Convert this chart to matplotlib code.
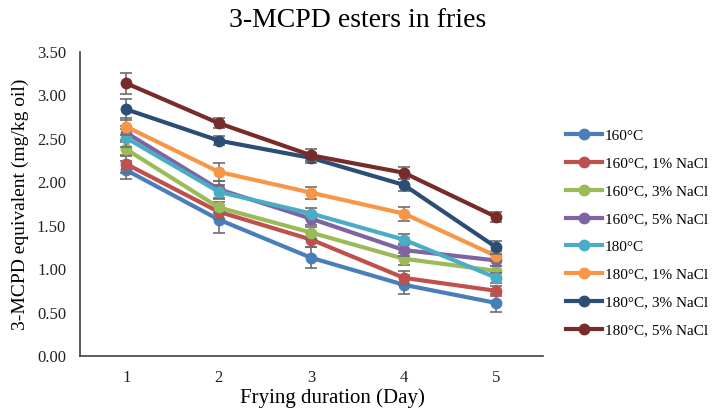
import matplotlib.pyplot as plt

days = [1, 2, 3, 4, 5]

labels = ['160°C', '160°C, 1% NaCl', '160°C, 3% NaCl', '160°C, 5% NaCl',
          '180°C', '180°C, 1% NaCl', '180°C, 3% NaCl', '180°C, 5% NaCl']

c160 = [2.14, 1.57, 1.13, 0.82, 0.61]
c160_1 = [2.21, 1.66, 1.34, 0.90, 0.75]
c160_3 = [2.38, 1.71, 1.42, 1.12, 0.98]
c160_5 = [2.57, 1.92, 1.58, 1.22, 1.10]
c180 = [2.51, 1.89, 1.64, 1.34, 0.90]
c180_1 = [2.64, 2.12, 1.88, 1.64, 1.15]
c180_3 = [2.84, 2.48, 2.28, 1.97, 1.25]
c180_5 = [3.14, 2.68, 2.31, 2.11, 1.60]

e160 = [0.10, 0.15, 0.12, 0.11, 0.10]
e160_1 = [0.10, 0.08, 0.08, 0.08, 0.06]
e160_3 = [0.08, 0.06, 0.07, 0.07, 0.06]
e160_5 = [0.08, 0.10, 0.07, 0.07, 0.06]
e180 = [0.10, 0.08, 0.06, 0.06, 0.06]
e180_1 = [0.10, 0.10, 0.07, 0.08, 0.06]
e180_3 = [0.12, 0.05, 0.06, 0.07, 0.07]
e180_5 = [0.12, 0.06, 0.07, 0.07, 0.06]

series = [c160, c160_1, c160_3, c160_5, c180, c180_1, c180_3, c180_5]
errors = [e160, e160_1, e160_3, e160_5, e180, e180_1, e180_3, e180_5]
colors = ['#4A7EBB', '#C0504D', '#9BBB59', '#8064A2',
          '#4BACC6', '#F79646', '#2C4D75', '#772C2A']

plt.rcParams['font.family'] = ['Liberation Serif', 'DejaVu Serif']

fig = plt.figure(figsize=(7.15, 4.13), dpi=100)
ax = fig.add_axes([0.112, 0.138, 0.647, 0.736])

for i, (y, e, c, lab) in enumerate(zip(series, errors, colors, labels)):
    ax.errorbar(days, y, yerr=e, fmt='none', ecolor='#6d6d6d', elinewidth=1.2,
                capsize=4, capthick=1.2, zorder=2 + 2 * i)
    ax.plot(days, y, '-o', color=c, linewidth=3, markersize=7.5, label=lab,
            zorder=3 + 2 * i)

ax.set_xlim(0.5, 5.5)
ax.set_ylim(0, 3.5)
ax.set_xticks(days)
ax.set_yticks([0, 0.5, 1, 1.5, 2, 2.5, 3, 3.5])
ax.set_yticklabels(['%.2f' % v for v in ax.get_yticks()])
ax.tick_params(length=0, labelsize=12, pad=10, colors='#222222')

for s in ['top', 'right']:
    ax.spines[s].set_visible(False)
for s in ['left', 'bottom']:
    ax.spines[s].set_color('#404040')
    ax.spines[s].set_linewidth(1.2)

fig.suptitle('3-MCPD esters in fries', fontsize=20, x=0.5, y=0.98, va='top')
ax.set_xlabel('Frying duration (Day)', fontsize=15, labelpad=3)
ax.xaxis.set_label_coords(0.545, -0.105)
ax.set_ylabel('3-MCPD equivalent (mg/kg oil)', fontsize=14, labelpad=6)

ax.legend(loc='center left', bbox_to_anchor=(1.02, 0.405), frameon=False,
          fontsize=11, handlelength=2.4, labelspacing=0.92, handletextpad=0.15)

fig.savefig('out.png', dpi=100)
